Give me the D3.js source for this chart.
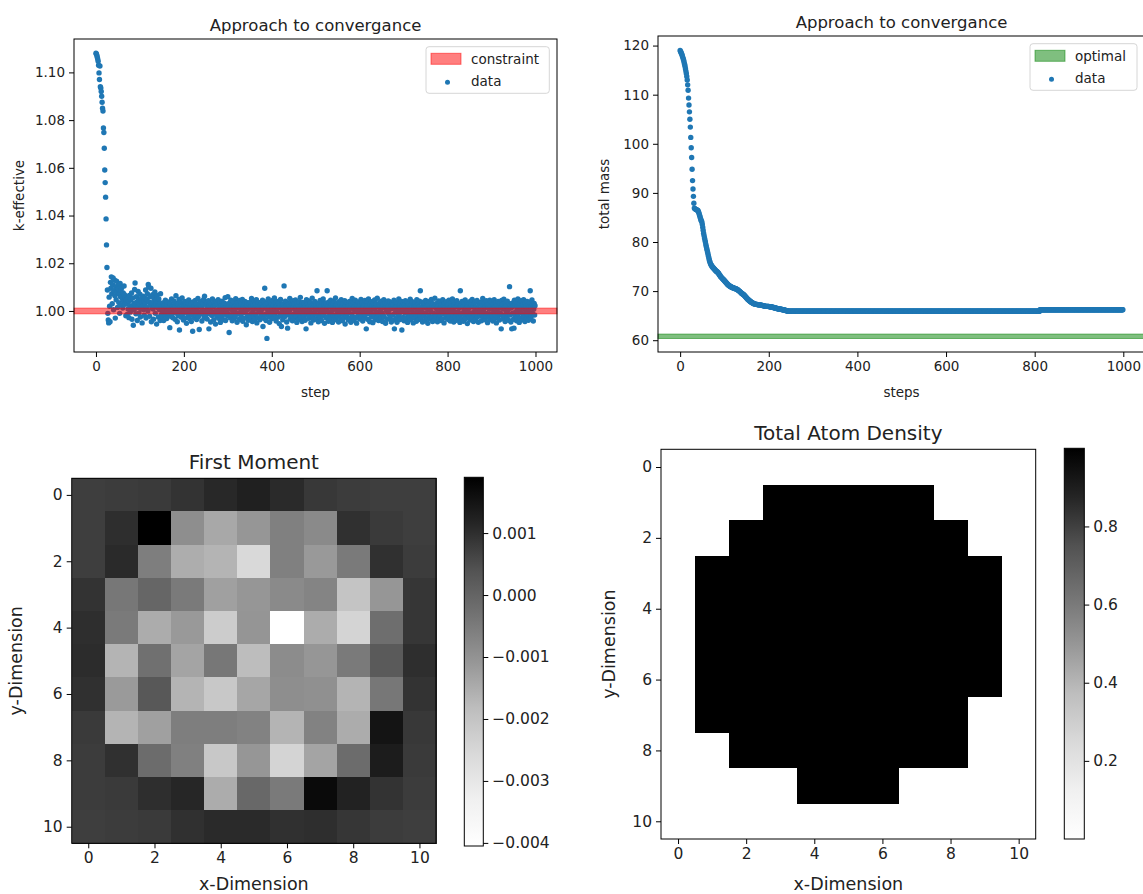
<!DOCTYPE html>
<html><head><meta charset="utf-8">
<script src="https://cdn.jsdelivr.net/npm/d3@7"></script>
<style>
html,body{margin:0;padding:0;background:#fff;}
svg text{font-family:"DejaVu Sans",sans-serif;fill:#222;}
</style></head><body>
<svg id="fig" width="1143" height="894"></svg>
<script>
// ---------- k-effective history ----------
// first steps of the run (absolute k-eff values)
const keffStart = [1.1080,1.1077,1.1072,1.1064,1.1056,1.1047,1.1030,1.0998,1.0970,1.1027,
  1.0940,1.0935,1.0920,1.0900,1.0875,1.0850,1.0838,1.0767,1.0748,1.0682,
  1.0591,1.0538,1.0477,1.0386,1.0277,1.0182,1.0088,0.9990,0.9962,0.9950];
// remaining steps, deviation from 1.0 in units of 1e-4
const keffDeviation = [
58,20,-45,120,95,143,72,30,110,138,5,85,130,64,-30,101,47,125,80,15,
108,92,35,70,-10,115,60,88,25,98,50,12,76,40,105,68,28,55,-20,45,
30,-15,52,8,40,-28,65,22,-5,48,12,75,-35,18,55,-60,33,4,90,117,
25,-12,60,38,-40,15,82,45,-8,28,70,-25,10,50,35,-50,20,62,5,42,
-18,55,30,88,-30,15,48,72,0,111,100,38,-22,60,25,95,-45,12,35,68,
8,-35,52,20,80,-10,45,28,-55,65,15,38,-25,50,5,30,-40,72,18,-15,
12,-25,34,3,-40,22,8,-15,45,-5,18,-32,27,0,-18,38,-8,15,-70,30,-22,5,50,-12,20,
-28,10,42,-6,25,-35,16,64,-10,33,-45,4,28,-20,48,-80,14,-2,36,-26,9,55,-14,24,-38,
18,-4,40,-30,7,26,-52,15,-9,35,-20,46,2,-33,21,-7,30,-44,11,-16,-85,38,-3,19,-27,
6,44,-18,29,-36,13,-1,52,-24,17,-78,25,-11,39,-5,20,-42,8,31,-15,48,-29,62,3,-21,
26,-8,37,-34,14,-2,43,-75,21,-13,32,-46,9,28,-19,50,-6,16,-38,35,-10,23,-55,40,1,
-23,30,-4,47,-31,12,-16,38,-48,19,5,-26,41,-9,24,-37,10,33,-14,56,-40,15,-3,28,-20,
60,-12,22,-90,34,-28,7,45,-17,13,-41,27,-6,39,-33,18,2,-24,51,-11,29,-47,15,36,-8,
21,-36,44,-15,9,31,-25,3,48,-43,17,-7,26,-30,40,-2,14,-58,23,35,-19,6,-39,30,11,
-16,37,-27,19,52,-9,-44,25,4,-21,42,-35,13,30,-12,47,-50,8,22,-28,36,-4,15,-37,28,
-10,33,-22,6,45,-65,18,-31,39,95,-14,27,-40,10,-115,32,-6,50,-24,16,-47,38,2,-18,29,
-33,12,44,-8,24,-29,55,-15,7,35,-42,19,-3,40,-26,14,31,-53,22,-11,48,-20,-65,26,5,
-37,30,-9,105,16,-23,41,-4,20,-46,12,-72,34,-16,27,-1,52,-34,9,37,-19,24,-41,15,43,
-12,28,-30,6,46,-22,18,-48,33,-5,21,-36,39,10,-17,57,-28,3,25,-44,36,-9,14,-25,31,
4,-39,22,-75,47,-14,30,-2,17,-31,42,-20,8,35,-50,19,-7,54,-26,13,-38,29,-11,40,-3,
23,-34,11,85,-18,32,-45,6,26,-27,44,-8,19,-40,37,2,-21,50,-13,28,-52,15,-4,34,-30,
10,85,-24,21,-43,38,-6,16,-35,45,-15,27,1,-48,33,-19,12,41,-29,7,55,-37,24,-10,30,
-22,14,-46,39,5,-16,28,-33,47,-1,19,-41,32,-12,8,-27,43,-55,22,3,-20,36,-8,17,-38,
26,-5,40,-30,13,-47,31,-14,52,-23,9,35,-39,18,-2,45,-28,11,-51,27,4,-18,38,-9,20,
-34,29,-13,48,-24,7,33,-42,15,-6,25,-31,44,-17,10,-75,37,-3,21,-36,50,-11,16,-45,28,
2,-25,39,-14,23,-49,34,8,-20,46,-37,13,-4,30,-28,53,-9,18,-40,26,-15,36,6,-32,41,
-7,19,-44,28,-19,47,-26,12,35,-52,21,-1,30,-35,15,42,-12,5,-30,38,-21,24,-46,9,33,
-16,27,-38,45,-75,11,-8,36,-29,18,-47,31,3,-22,50,-13,25,-36,14,-4,40,-80,20,-27,34,
7,-41,26,-10,43,-31,17,-2,38,-48,22,-15,31,-24,10,49,-37,4,28,-19,39,-6,-50,24,12,
-28,35,-12,20,-43,47,1,-25,29,-36,16,41,-17,85,-33,9,-4,37,-46,23,-11,32,-21,13,-39,
44,-7,18,-30,36,-52,25,5,-19,40,-34,14,-2,48,-26,21,-44,30,-9,16,-38,53,-14,27,-23,
8,33,-45,19,-5,42,-29,11,-18,37,-40,26,2,-33,47,-12,22,-50,31,-3,15,-27,39,-16,6,
-35,28,-10,45,-23,13,-42,34,-1,20,-31,50,-17,9,-46,27,-6,38,-25,16,-39,43,-13,24,-4,
31,-28,12,-48,85,-15,23,-36,40,-8,17,-43,35,3,-21,46,-32,10,-11,29,-53,21,-2,36,-26,
14,-38,41,-13,25,-29,48,-7,19,-44,32,-19,6,39,-34,15,-1,44,-24,10,-47,28,-9,35,-20,
4,37,-41,22,-15,52,-30,9,-5,33,-37,18,-22,43,-10,26,-49,14,30,-27,7,45,-35,20,-12,
38,-20,11,-42,29,-4,47,-32,16,-16,34,-50,24,1,-26,40,-11,19,-38,31,-8,13,-75,44,-18,
27,-33,8,49,-21,15,-44,36,-6,22,-29,41,-14,5,-39,30,102,-17,25,-46,12,-75,33,-9,20,
-35,-72,45,-19,28,-3,38,-41,14,-25,50,-12,21,-48,32,2,-30,43,-8,17,-37,26,-15,47,-23,
9,-44,34,-6,19,-28,40,-13,24,-39,13,-2,37,85,-31,16,-20,46,-10,28,-42,7,31,-17,22];
const keffConstraint = [0.9988, 1.0012];

// ---------- total mass history ----------
const massStart = [
119.0,118.8,118.6,118.4,118.2,117.9,117.6,117.3,117.0,116.6,116.2,115.8,115.3,114.8,114.3,113.7,113.0,
112.0,110.9,109.3,107.9,106.5,105.0,103.4,101.3,99.2,97.2,94.8,92.5,90.8,89.3,87.9,86.9,
86.8,86.7,86.7,86.6,86.6,86.5,86.5,86.4,86.2,86.0,85.7,85.4,85.1,84.8,84.5,84.3,84.1,
83.6,83.0,82.4,81.8,81.3,80.8,80.4,80.0,79.5,79.1,78.7,78.3,77.9,77.5,77.1,76.7,76.3,76.0,75.7,75.5,
75.3,75.2,75.0,74.9,74.8,74.7,74.6,74.5,74.4,74.3,74.2,74.1,74.0,74.0,73.9,73.8,73.7,73.6,73.4,73.3,
73.2,73.0,72.9,72.8,72.7,72.6,72.5,72.4,72.3,72.2,72.1,72.0,71.9,71.8,71.7,71.6,71.5,71.4,71.3,71.2,
71.2,71.1,71.0,71.0,70.9,70.9,70.8,70.8,70.7,70.7,70.7,70.6,70.6,70.6,70.5,70.5,70.5,70.4,70.4,70.3,
70.3,70.2,70.1,70.0,70.0,69.9,69.8,69.7,69.6,69.5,69.5,69.4,69.3,69.3,69.2,69.1,69.0,68.9,68.8,68.7,
68.6,68.5,68.4,68.3,68.2,68.2,68.1,68.0,67.9,67.9,67.8,67.7,67.7,67.6,67.6,67.5,67.5,67.4,67.4,67.4,67.3,67.3,67.3,67.3,67.3];
// later steps as [value, number of consecutive steps]
const massRuns = [[67.2,8],[67.1,4],[67.0,5],[66.9,9],[66.8,5],[66.7,5],[66.6,4],[66.5,4],
  [66.4,5],[66.3,6],[66.2,5],[66.1,4],[66.0,4],[65.9,569],[66.2,188]];
const massOptimal = [60.35, 61.25];

// ---------- spatial maps (11 x 11, row = y index) ----------
const firstMoment = [
[0.00074,0.00078,0.00081,0.00093,0.00111,0.00126,0.00107,0.00084,0.00078,0.00074,0.00074],
[0.00074,0.00101,0.00190,-0.00091,-0.00142,-0.00108,-0.00061,-0.00082,0.00097,0.00081,0.00074],
[0.00074,0.00107,-0.00057,-0.00151,-0.00165,-0.00256,-0.00061,-0.00113,-0.00048,0.00097,0.00078],
[0.00093,-0.00042,-0.00004,-0.00048,-0.00127,-0.00108,-0.00082,-0.00069,-0.00201,-0.00108,0.00088],
[0.00101,-0.00048,-0.00149,-0.00113,-0.00222,-0.00105,-0.00405,-0.00149,-0.00243,-0.00022,0.00088],
[0.00104,-0.00165,-0.00026,-0.00134,-0.00042,-0.00182,-0.00086,-0.00108,-0.00048,0.00023,0.00101],
[0.00097,-0.00115,0.00028,-0.00165,-0.00211,-0.00138,-0.00091,-0.00095,-0.00165,-0.00042,0.00093],
[0.00081,-0.00165,-0.00127,-0.00057,-0.00057,-0.00065,-0.00165,-0.00065,-0.00149,0.00150,0.00084],
[0.00078,0.00097,-0.00017,-0.00061,-0.00211,-0.00108,-0.00243,-0.00134,-0.00017,0.00134,0.00081],
[0.00078,0.00081,0.00101,0.00114,-0.00149,-0.00008,-0.00048,0.00170,0.00122,0.00093,0.00078],
[0.00074,0.00078,0.00081,0.00097,0.00107,0.00107,0.00097,0.00101,0.00088,0.00078,0.00074]];
const atomDensity = [
[0,0,0,0,0,0,0,0,0,0,0],
[0,0,0,1,1,1,1,1,0,0,0],
[0,0,1,1,1,1,1,1,1,0,0],
[0,1,1,1,1,1,1,1,1,1,0],
[0,1,1,1,1,1,1,1,1,1,0],
[0,1,1,1,1,1,1,1,1,1,0],
[0,1,1,1,1,1,1,1,1,1,0],
[0,1,1,1,1,1,1,1,1,0,0],
[0,0,1,1,1,1,1,1,1,0,0],
[0,0,0,0,1,1,1,0,0,0,0],
[0,0,0,0,0,0,0,0,0,0,0]];

// tick labels
const stepTicks = [0,200,400,600,800,1000];
const keffTicks = [1.00,1.02,1.04,1.06,1.08,1.10];
const massTicks = [60,70,80,90,100,110,120];
const gridTicks = [0,2,4,6,8,10];
const momentTicks = [0.001,0.000,-0.001,-0.002,-0.003,-0.004];
const densityTicks = [0.2,0.4,0.6,0.8];

// matplotlib "Greys" colour stops
const greys = ["#ffffff","#f0f0f0","#d9d9d9","#bdbdbd","#969696","#737373","#525252","#252525","#000000"];
const BLUE = "#1f77b4";
const DOT_R = 2.7;

// ---------- assembled series ----------
const keff = keffStart.concat(keffDeviation.map(d => 1 + d / 1e4));
const mass = massStart.slice();
massRuns.forEach(([v, n]) => { for (let i = 0; i < n; i++) mass.push(v); });

const svg = d3.select("#fig");
const FONT = '"DejaVu Sans", sans-serif';

function styleAxis(g, size) {
  g.select(".domain").remove();
  g.selectAll(".tick line").attr("stroke", "#000").attr("stroke-width", 1);
  g.selectAll(".tick text").attr("fill", "#222")
    .style("font-size", size + "px").style("font-family", FONT);
}
function frame(x0, y0, x1, y1) {
  svg.append("rect").attr("x", x0).attr("y", y0).attr("width", x1 - x0).attr("height", y1 - y0)
    .attr("fill", "none").attr("stroke", "#000").attr("stroke-width", 1);
}
function label(text, x, y, size, rotate) {
  const t = svg.append("text").attr("text-anchor", "middle").attr("dominant-baseline", "central")
    .style("font-size", size + "px").text(text);
  if (rotate) t.attr("transform", `translate(${x},${y}) rotate(-90)`);
  else t.attr("x", x).attr("y", y);
  return t;
}
function legend(x, y, w, patchColor, patchText) {
  const g = svg.append("g").attr("transform", `translate(${x},${y})`);
  g.append("rect").attr("width", w).attr("height", 46.6).attr("rx", 3)
    .attr("fill", "#fff").attr("fill-opacity", 0.8).attr("stroke", "#d6d6d6");
  g.append("rect").attr("x", 5).attr("y", 6.6).attr("width", 30).attr("height", 11)
    .attr("fill", patchColor).attr("fill-opacity", 0.5)
    .attr("stroke", patchColor).attr("stroke-opacity", 0.5);
  g.append("circle").attr("cx", 21.5).attr("cy", 35.6).attr("r", 2.5).attr("fill", BLUE);
  g.append("text").attr("x", 45).attr("y", 12.3).attr("dominant-baseline", "central")
    .style("font-size", "13.5px").text(patchText);
  g.append("text").attr("x", 45).attr("y", 34.6).attr("dominant-baseline", "central")
    .style("font-size", "13.5px").text("data");
}

// ================= k-effective panel =================
{
  const L = 74, R = 557, T = 39, B = 352;
  const x = d3.scaleLinear().domain([-49.95, 1048.95]).range([L, R]);
  const y = d3.scaleLinear().domain([0.9828, 1.1140]).range([B, T]);
  svg.append("g").selectAll("circle").data(keff).join("circle")
    .attr("cx", (d, i) => x(i)).attr("cy", d => y(d)).attr("r", DOT_R).attr("fill", BLUE);
  svg.append("rect").attr("x", L).attr("width", R - L)
    .attr("y", y(keffConstraint[1])).attr("height", y(keffConstraint[0]) - y(keffConstraint[1]))
    .attr("fill", "red").attr("fill-opacity", 0.5).attr("stroke", "red").attr("stroke-opacity", 0.5);
  frame(L, T, R, B);
  styleAxis(svg.append("g").attr("transform", `translate(0,${B})`)
    .call(d3.axisBottom(x).tickValues(stepTicks).tickSize(5).tickPadding(4).tickFormat(d3.format("d"))), 13.5);
  styleAxis(svg.append("g").attr("transform", `translate(${L},0)`)
    .call(d3.axisLeft(y).tickValues(keffTicks).tickSize(5).tickPadding(4).tickFormat(d3.format(".2f"))), 13.5);
  label("Approach to convergance", (L + R) / 2, 25, 16.5);
  label("step", (L + R) / 2, 392, 13.5);
  label("k-effective", 19, (T + B) / 2, 13.5, true);
  legend(426, 46.7, 123.3, "red", "constraint");
}

// ================= total mass panel =================
{
  const L = 658, R = 1145, T = 36, B = 352;
  const x = d3.scaleLinear().domain([-49.95, 1048.95]).range([L, R]);
  const y = d3.scaleLinear().domain([57.6, 121.95]).range([B, T]);
  svg.append("g").selectAll("circle").data(mass).join("circle")
    .attr("cx", (d, i) => x(i)).attr("cy", d => y(d)).attr("r", DOT_R).attr("fill", BLUE);
  svg.append("rect").attr("x", L).attr("width", R - L)
    .attr("y", y(massOptimal[1])).attr("height", y(massOptimal[0]) - y(massOptimal[1]))
    .attr("fill", "green").attr("fill-opacity", 0.5).attr("stroke", "green").attr("stroke-opacity", 0.5);
  frame(L, T, R, B);
  styleAxis(svg.append("g").attr("transform", `translate(0,${B})`)
    .call(d3.axisBottom(x).tickValues(stepTicks).tickSize(5).tickPadding(4).tickFormat(d3.format("d"))), 13.5);
  styleAxis(svg.append("g").attr("transform", `translate(${L},0)`)
    .call(d3.axisLeft(y).tickValues(massTicks).tickSize(5).tickPadding(4).tickFormat(d3.format("d"))), 13.5);
  label("Approach to convergance", (L + R) / 2, 22, 16.5);
  label("steps", (L + R) / 2, 392, 13.5);
  label("total mass", 604, (T + B) / 2, 13.5, true);
  legend(1030, 43.7, 107, "green", "optimal");
}

// ================= heat maps =================
function heatmap(id, data, box, cbar, cticks, cfmt, title, titleY, ylabX) {
  const [L, T, R, B] = box;
  const x = d3.scaleLinear().domain([-0.5, 10.5]).range([L, R]);
  const y = d3.scaleLinear().domain([-0.5, 10.5]).range([T, B]);
  const ext = d3.extent(data.flat());
  const dom = cbar.domain || ext;
  const color = d3.scaleLinear()
    .domain(greys.map((c, i) => dom[0] + (dom[1] - dom[0]) * i / (greys.length - 1)))
    .range(greys).clamp(true);
  const cells = [];
  data.forEach((row, r) => row.forEach((v, c) => cells.push({ r, c, v })));
  svg.append("g").attr("shape-rendering", "crispEdges").selectAll("rect").data(cells).join("rect")
    .attr("x", d => x(d.c - 0.5)).attr("y", d => y(d.r - 0.5))
    .attr("width", d => x(d.c + 0.5) - x(d.c - 0.5) + 0.5)
    .attr("height", d => y(d.r + 0.5) - y(d.r - 0.5) + 0.5)
    .attr("fill", d => color(d.v));
  frame(L, T, R, B);
  styleAxis(svg.append("g").attr("transform", `translate(0,${B})`)
    .call(d3.axisBottom(x).tickValues(gridTicks).tickSize(5).tickPadding(4)), 15.5);
  styleAxis(svg.append("g").attr("transform", `translate(${L},0)`)
    .call(d3.axisLeft(y).tickValues(gridTicks).tickSize(5).tickPadding(4)), 15.5);
  label(title, (L + R) / 2, titleY, 20);
  label("x-Dimension", (L + R) / 2, 884, 17.5);
  label("y-Dimension", ylabX, (T + B) / 2, 17.5, true);

  // colour bar
  const grad = svg.append("defs").append("linearGradient").attr("id", id)
    .attr("x1", 0).attr("y1", 1).attr("x2", 0).attr("y2", 0);
  greys.forEach((c, i) => grad.append("stop").attr("offset", i / (greys.length - 1)).attr("stop-color", c));
  svg.append("rect").attr("x", cbar.x0).attr("y", cbar.y0)
    .attr("width", cbar.x1 - cbar.x0).attr("height", cbar.y1 - cbar.y0)
    .attr("fill", `url(#${id})`).attr("stroke", "#000").attr("stroke-width", 1);
  const cy = d3.scaleLinear().domain(dom).range([cbar.y1, cbar.y0]);
  styleAxis(svg.append("g").attr("transform", `translate(${cbar.x1},0)`)
    .call(d3.axisRight(cy).tickValues(cticks).tickSize(5).tickPadding(4).tickFormat(d3.format(cfmt))), 15.5);
}

heatmap("cbMoment", firstMoment, [71.7, 478.3, 436, 843.3],
  { x0: 464.3, x1: 483.3, y0: 477.3, y1: 846 }, momentTicks, ".3f", "First Moment", 462, 16);
heatmap("cbDensity", atomDensity, [661, 449.3, 1035.7, 839],
  { x0: 1064.3, x1: 1084.3, y0: 448.3, y1: 839, domain: [0, 1] }, densityTicks, ".1f", "Total Atom Density", 433, 609);
</script>
</body></html>
